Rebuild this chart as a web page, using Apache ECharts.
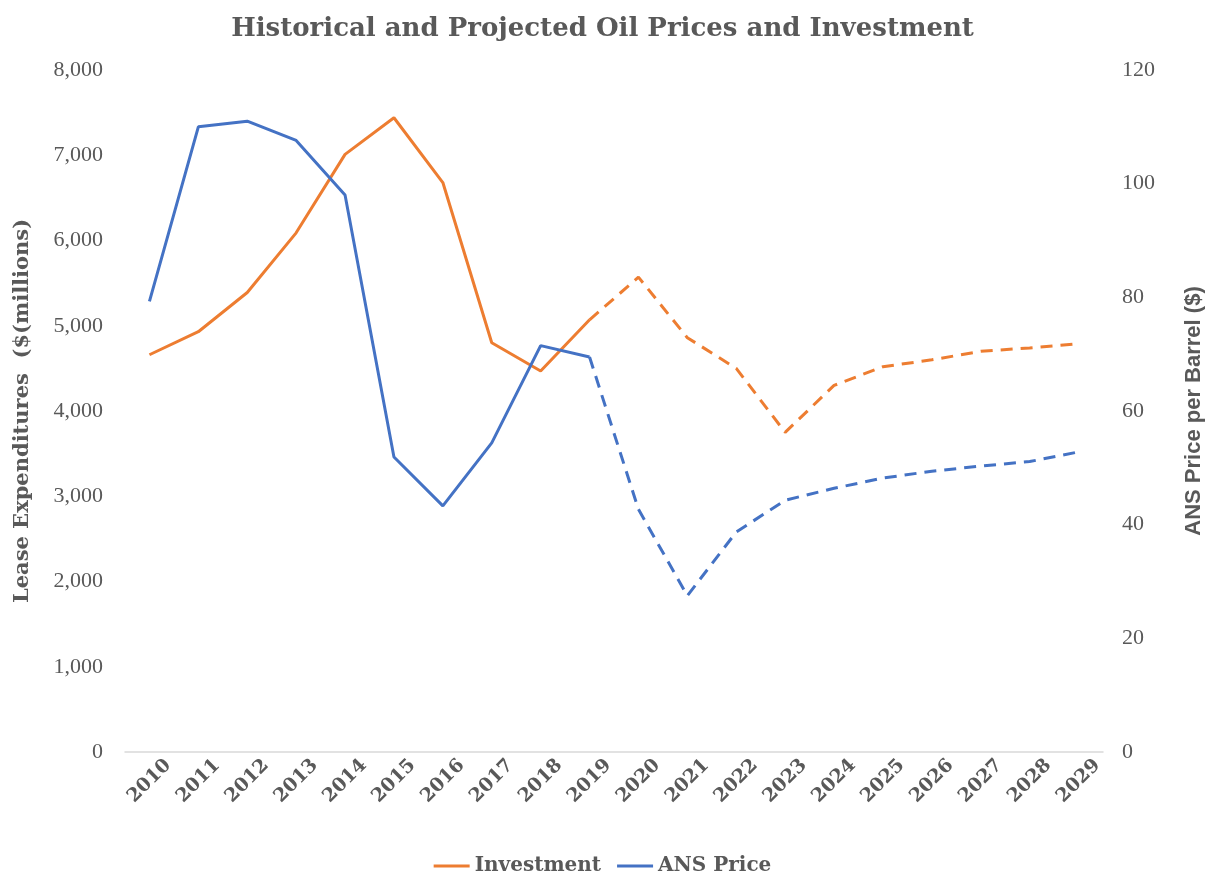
<!DOCTYPE html>
<html>
<head>
<meta charset="utf-8">
<script src="https://cdn.jsdelivr.net/npm/echarts@6/dist/echarts.min.js"></script>
<style>
  html, body { margin: 0; padding: 0; background: #fff; }
  #oilChart { width: 1205px; height: 875px; }
</style>
</head>
<body>
<div id="oilChart"></div>
<script>
  // years on the category axis
  var years = ['2010', '2011', '2012', '2013', '2014', '2015', '2016', '2017', '2018', '2019',
    '2020', '2021', '2022', '2023', '2024', '2025', '2026', '2027', '2028', '2029'];

  // lease expenditures, $ millions (historical up to 2019, projected after)
  var investmentHist = [4660, 4930, 5390, 6090, 7010, 7440, 6680, 4800, 4470, 5070,
    null, null, null, null, null, null, null, null, null, null];
  var investmentProj = [null, null, null, null, null, null, null, null, null, 5070,
    5570, 4860, 4500, 3750, 4300, 4520, 4600, 4700, 4740, 4790];

  // ANS price per barrel, $
  var priceHist = [79.3, 110, 111, 107.6, 98, 51.9, 43.3, 54.4, 71.5, 69.5,
    null, null, null, null, null, null, null, null, null, null];
  var priceProj = [null, null, null, null, null, null, null, null, null, 69.5,
    42.7, 27.5, 38.7, 44.3, 46.4, 48.2, 49.4, 50.3, 51.1, 52.8];

  var leftTicks = { min: 0, max: 8000, interval: 1000 };
  var rightTicks = { min: 0, max: 120, interval: 20 };

  var orange = '#ED7D31';
  var blue = '#4472C4';
  var textGrey = '#595959';
  var serif = '"DejaVu Serif", "Liberation Serif", serif';
  var tickSerif = '"Liberation Serif", "DejaVu Serif", serif';

  var myChart = echarts.init(document.getElementById('oilChart'));
  myChart.setOption({
    animation: false,
    title: {
      text: 'Historical and Projected Oil Prices and Investment',
      left: 'center',
      top: 11,
      textStyle: { fontFamily: serif, fontWeight: 'bold', fontSize: 26, color: textGrey }
    },
    legend: {
      data: ['Investment', 'ANS Price'],
      bottom: -6,
      left: 'center',
      icon: 'rect',
      itemWidth: 36,
      itemHeight: 3,
      itemGap: 16,
      textStyle: { fontFamily: serif, fontWeight: 'bold', fontSize: 20, color: textGrey }
    },
    grid: { left: 125, right: 102, top: 70, bottom: 123, outerBoundsMode: 'none' },
    xAxis: {
      type: 'category',
      data: years,
      boundaryGap: true,
      axisLine: { lineStyle: { color: '#d9d9d9', width: 1.5 } },
      axisTick: { show: false },
      axisLabel: {
        rotate: 45,
        margin: 29,
        interval: 0,
        align: 'center',
        verticalAlign: 'middle',
        fontFamily: serif,
        fontWeight: 'bold',
        fontSize: 19,
        color: textGrey
      }
    },
    yAxis: [
      {
        type: 'value',
        min: leftTicks.min,
        max: leftTicks.max,
        interval: leftTicks.interval,
        name: 'Lease Expenditures  ($(millions)',
        nameLocation: 'middle',
        nameGap: 92,
        nameTextStyle: { fontFamily: serif, fontWeight: 'bold', fontSize: 21, color: textGrey },
        splitLine: { show: false },
        axisLine: { show: false },
        axisTick: { show: false },
        axisLabel: {
          margin: 22,
          fontFamily: tickSerif,
          fontSize: 22,
          color: textGrey,
          formatter: function (v) { return v.toLocaleString('en-US'); }
        }
      },
      {
        type: 'value',
        position: 'right',
        min: rightTicks.min,
        max: rightTicks.max,
        interval: rightTicks.interval,
        name: 'ANS Price per Barrel ($)',
        nameLocation: 'middle',
        nameGap: 80,
        nameTextStyle: { fontFamily: '"Liberation Sans", Arial, sans-serif', fontWeight: 'bold', fontSize: 22, color: textGrey },
        splitLine: { show: false },
        axisLine: { show: false },
        axisTick: { show: false },
        axisLabel: {
          margin: 19,
          fontFamily: tickSerif,
          fontSize: 22,
          color: textGrey
        }
      }
    ],
    series: [
      {
        name: 'Investment',
        type: 'line',
        yAxisIndex: 0,
        data: investmentHist,
        showSymbol: false,
        symbol: 'none',
        lineStyle: { color: orange, width: 3 },
        itemStyle: { color: orange }
      },
      {
        name: 'ANS Price',
        type: 'line',
        yAxisIndex: 1,
        data: priceHist,
        showSymbol: false,
        symbol: 'none',
        lineStyle: { color: blue, width: 3 },
        itemStyle: { color: blue }
      },
      {
        name: 'Investment',
        type: 'line',
        yAxisIndex: 0,
        data: investmentProj,
        showSymbol: false,
        symbol: 'none',
        lineStyle: { color: orange, width: 3, type: [12, 8] },
        itemStyle: { color: orange }
      },
      {
        name: 'ANS Price',
        type: 'line',
        yAxisIndex: 1,
        data: priceProj,
        showSymbol: false,
        symbol: 'none',
        lineStyle: { color: blue, width: 3, type: [12, 8] },
        itemStyle: { color: blue }
      }
    ]
  });
</script>
</body>
</html>
